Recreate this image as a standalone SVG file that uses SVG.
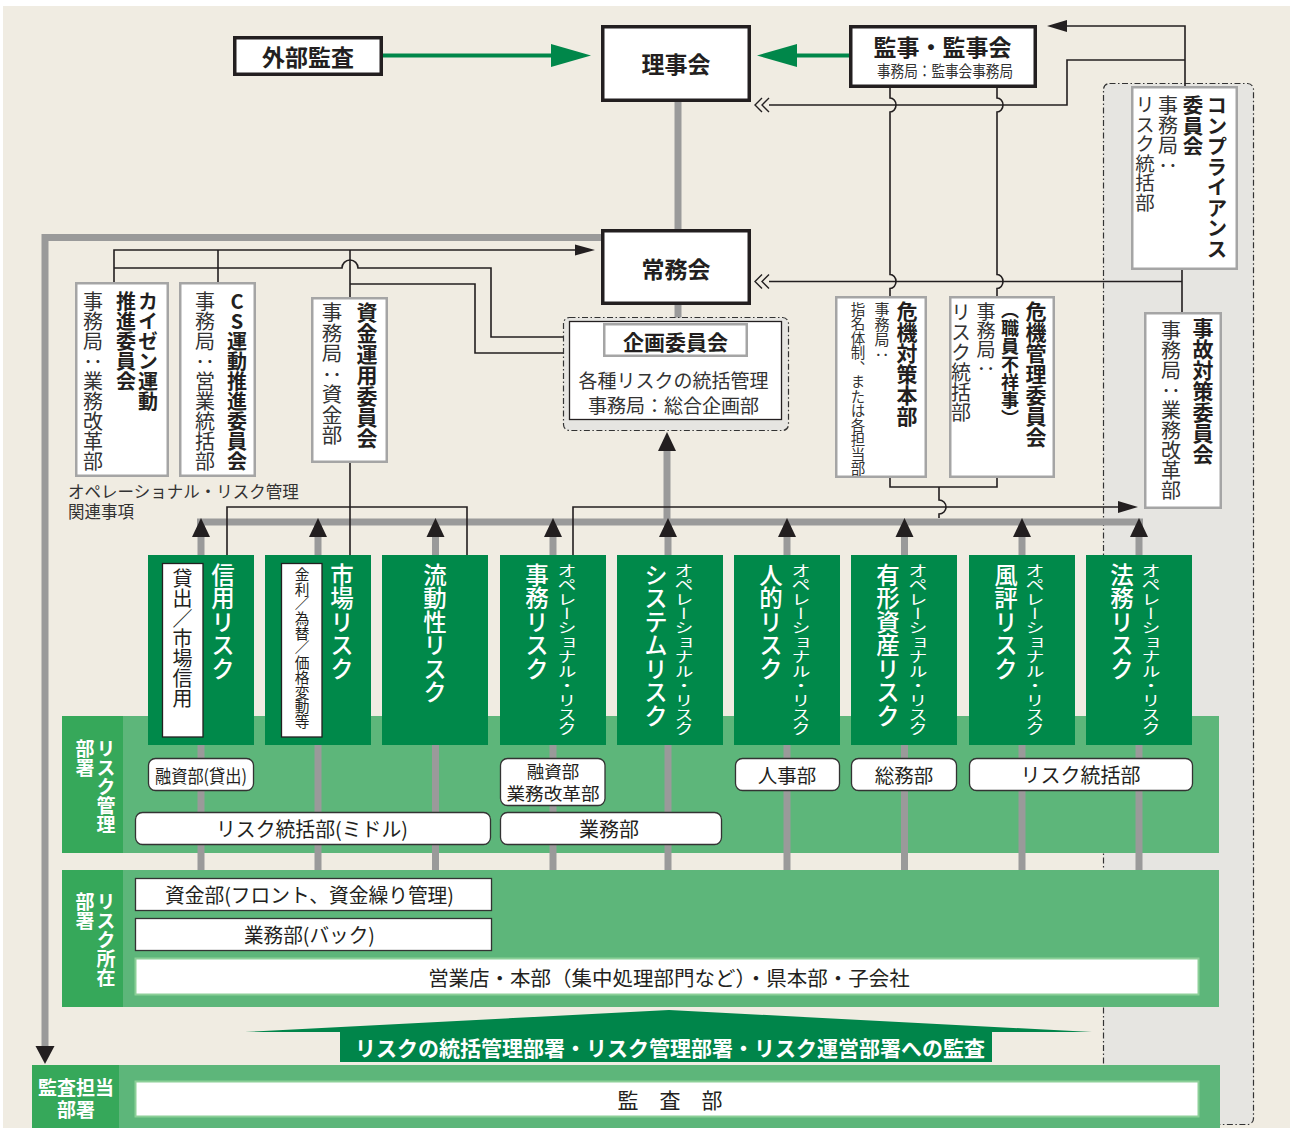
<svg xmlns="http://www.w3.org/2000/svg" width="1290" height="1128" viewBox="0 0 1290 1128">
<defs>
<style>
text { font-family: 'Noto Sans CJK JP', 'Noto Sans', sans-serif; fill: #231f20; }
.v { writing-mode: vertical-rl; }
.c { text-anchor: middle; dominant-baseline: central; }
.b { font-weight: bold; }
.m { font-weight: 500; }
.w { fill: #fff; }
.sub { fill: #333; }
.thick { fill: #fff; stroke: #231f20; stroke-width: 3.5; }
.gbox { fill: #fff; stroke: #a5a5a5; stroke-width: 2.5; }
.dept { fill: #fff; stroke: #333; stroke-width: 1.3; }
.gline { fill: none; stroke: #9a9a9a; stroke-width: 7; }
.line { fill: none; stroke: #231f20; stroke-width: 1.6; }
.col { fill: #00894a; }
.band { fill: #5db67a; }
.lab { fill: #36a85a; }
.lgb { fill: #fff; stroke: #8ccf98; stroke-width: 2; }
.dd { stroke: #333; stroke-width: 1.2; stroke-dasharray: 6 2.5 1.5 2.5; }
.inner { fill: #fff; stroke: #231f20; stroke-width: 1.3; }
</style>
<polygon id="upTri" points="0,0 9,19 -9,19" fill="#231f20"/>
<path id="chev" d="M7,-7 L0,0 L7,7 M14,-7 L7,0 L14,7" fill="none" stroke="#231f20" stroke-width="1.4"/>
</defs>

<rect x="3" y="6" width="1287" height="1122" fill="#f0ece2"/>

<!-- compliance area -->
<rect id="compliance-area" class="dd" x="1103.5" y="83.5" width="150" height="1041" rx="6" fill="#e6e5e1"/>

<!-- bands -->
<g id="band-risk-mgmt">
<rect class="band" x="62" y="716" width="1157" height="137"/>
<rect class="lab" x="62" y="716" width="61" height="137"/>
<text class="v b w" x="106" y="739" font-size="19">リスク管理</text>
<text class="v b w" x="85" y="739" font-size="19">部署</text>
</g>
<g id="band-risk-loc">
<rect class="band" x="62" y="870" width="1157" height="137"/>
<rect class="lab" x="62" y="870" width="61" height="137"/>
<text class="v b w" x="106" y="892" font-size="19">リスク所在</text>
<text class="v b w" x="85" y="892" font-size="19">部署</text>
</g>
<g id="band-audit">
<rect class="band" x="32" y="1065" width="1188" height="63"/>
<rect class="lab" x="32" y="1065" width="87" height="63"/>
<text class="c b w" x="76" y="1086" font-size="19">監査担当</text>
<text class="c b w" x="76" y="1108" font-size="19">部署</text>
</g>

<!-- gray connectors -->
<g id="gray-connectors">
<path class="gline" d="M678,102 V229 M678,305 V318"/>
<path class="gline" d="M601,237.5 H45 V1047"/>
<polygon points="45,1064 35.5,1046 54.5,1046" fill="#231f20"/>
<path class="gline" d="M197,522 H1143"/>
<path class="gline" d="M667,450 V522"/>
<path class="gline" d="M201,522 V870 M318,522 V870 M435.5,522 V870 M553,522 V870 M668,522 V870 M787,522 V870 M904.5,522 V870 M1022,522 V870 M1139,522 V870"/>
<use href="#upTri" x="667" y="432"/>
</g>

<!-- risk columns -->
<g id="risk-credit">
<rect class="col" x="148" y="555" width="106" height="190"/>
<rect class="inner" x="162.5" y="563.5" width="40.5" height="173.5"/>
<text class="v w m" x="223" y="563" font-size="23.5">信用リスク</text>
<text class="v" x="182.5" y="568" font-size="20">貸出／市場信用</text>
</g>
<g id="risk-market">
<rect class="col" x="265" y="555" width="106" height="190"/>
<rect class="inner" x="281.5" y="563.5" width="40.5" height="173.5"/>
<text class="v w m" x="342" y="563" font-size="23.5">市場リスク</text>
<text class="v" x="302" y="567" font-size="14.7">金利／為替／価格変動等</text>
</g>
<g id="risk-liquidity">
<rect class="col" x="382" y="555" width="106" height="190"/>
<text class="v w m" x="435" y="563" font-size="23.5">流動性リスク</text>
</g>
<g id="risk-admin">
<rect class="col" x="500" y="555" width="106" height="190"/>
<text class="v w m" x="537" y="563" font-size="23.5">事務リスク</text>
<text class="v w" transform="translate(567,563) scale(1,0.76)" x="0" y="0" font-size="19">オペレーショナル・リスク</text>
</g>
<g id="risk-system">
<rect class="col" x="617" y="555" width="106" height="190"/>
<text class="v w m" x="656" y="563" font-size="23.5">システムリスク</text>
<text class="v w" transform="translate(684,563) scale(1,0.76)" x="0" y="0" font-size="19">オペレーショナル・リスク</text>
</g>
<g id="risk-human">
<rect class="col" x="734" y="555" width="106" height="190"/>
<text class="v w m" x="771" y="563" font-size="23.5">人的リスク</text>
<text class="v w" transform="translate(801,563) scale(1,0.76)" x="0" y="0" font-size="19">オペレーショナル・リスク</text>
</g>
<g id="risk-tangible">
<rect class="col" x="851" y="555" width="106" height="190"/>
<text class="v w m" x="888" y="563" font-size="23.5">有形資産リスク</text>
<text class="v w" transform="translate(918,563) scale(1,0.76)" x="0" y="0" font-size="19">オペレーショナル・リスク</text>
</g>
<g id="risk-reputation">
<rect class="col" x="969" y="555" width="106" height="190"/>
<text class="v w m" x="1006" y="563" font-size="23.5">風評リスク</text>
<text class="v w" transform="translate(1035,563) scale(1,0.76)" x="0" y="0" font-size="19">オペレーショナル・リスク</text>
</g>
<g id="risk-legal">
<rect class="col" x="1086" y="555" width="106" height="190"/>
<text class="v w m" x="1122" y="563" font-size="23.5">法務リスク</text>
<text class="v w" transform="translate(1151,563) scale(1,0.76)" x="0" y="0" font-size="19">オペレーショナル・リスク</text>
</g>

<!-- risk management departments -->
<g id="dept-yushi-kashidashi">
<rect class="dept" x="148.5" y="758.5" width="105" height="32" rx="7"/>
<text class="c" x="201" y="774.5" font-size="18" textLength="92" lengthAdjust="spacingAndGlyphs">融資部(貸出)</text>
</g>
<g id="dept-yushi-gyomukaikaku">
<rect class="dept" x="500.5" y="758.5" width="104.5" height="47" rx="7"/>
<text class="c" x="553" y="770.5" font-size="17.5">融資部</text>
<text class="c" x="553" y="792" font-size="17.5" textLength="93" lengthAdjust="spacingAndGlyphs">業務改革部</text>
</g>
<g id="dept-risk-middle">
<rect class="dept" x="135.5" y="812.5" width="355" height="32" rx="7"/>
<text class="c" x="312" y="828.5" font-size="20" textLength="192" lengthAdjust="spacingAndGlyphs">リスク統括部(ミドル)</text>
</g>
<g id="dept-gyomu">
<rect class="dept" x="500.5" y="812.5" width="221" height="32" rx="7"/>
<text class="c" x="609" y="828.5" font-size="20">業務部</text>
</g>
<g id="dept-jinji">
<rect class="dept" x="735.5" y="758.5" width="104" height="32" rx="7"/>
<text class="c" x="787" y="774.5" font-size="19.5">人事部</text>
</g>
<g id="dept-somu">
<rect class="dept" x="851.5" y="758.5" width="105" height="32" rx="7"/>
<text class="c" x="904" y="774.5" font-size="19.5">総務部</text>
</g>
<g id="dept-risk">
<rect class="dept" x="969.5" y="758.5" width="223" height="32" rx="7"/>
<text class="c" x="1080.5" y="774.5" font-size="20">リスク統括部</text>
</g>

<!-- risk location departments -->
<g id="loc-shikin">
<rect class="dept" x="135.5" y="878.5" width="356" height="32"/>
<text class="c" x="309.5" y="894.5" font-size="20" textLength="289" lengthAdjust="spacingAndGlyphs">資金部(フロント、資金繰り管理)</text>
</g>
<g id="loc-gyomu-back">
<rect class="dept" x="135.5" y="918.5" width="356" height="32"/>
<text class="c" x="309.5" y="934.5" font-size="20" textLength="131" lengthAdjust="spacingAndGlyphs">業務部(バック)</text>
</g>
<g id="loc-branches">
<rect class="lgb" x="135.5" y="958.5" width="1063" height="36"/>
<text class="c" x="669" y="976.5" font-size="20.5">営業店・本部（集中処理部門など）・県本部・子会社</text>
</g>

<!-- audit banner -->
<g id="audit-banner">
<polygon points="245,1032 669,1010 1092,1032 992,1032 992,1062 340,1062 340,1032" fill="#00854a"/>
<text class="c b w" x="670" y="1047" font-size="21">リスクの統括管理部署・リスク管理部署・リスク運営部署への監査</text>
</g>
<g id="audit-dept">
<rect class="lgb" x="135.5" y="1081.5" width="1063" height="35"/>
<text class="c" x="670" y="1099" font-size="21">監　査　部</text>
</g>

<!-- top nodes -->
<g id="external-audit">
<rect class="thick" x="234.75" y="37.75" width="146.5" height="36.5"/>
<text class="c b" x="308" y="56" font-size="23">外部監査</text>
</g>
<g id="board">
<rect class="thick" x="602.75" y="26.75" width="146.5" height="73.5"/>
<text class="c b" x="676" y="63" font-size="23">理事会</text>
</g>
<g id="auditors">
<rect class="thick" x="850.75" y="26.75" width="184.5" height="59.5"/>
<text class="c b" x="942.5" y="46" font-size="23">監事・監事会</text>
<text class="c sub" x="945" y="70" font-size="16" textLength="136" lengthAdjust="spacingAndGlyphs">事務局：監事会事務局</text>
</g>
<g id="executive">
<rect class="thick" x="602.75" y="230.75" width="146.5" height="72.5"/>
<text class="c b" x="676" y="267.5" font-size="23">常務会</text>
</g>
<g id="planning">
<rect class="dd" x="563.5" y="317.5" width="225" height="113" rx="6" fill="#e6e5e1"/>
<rect class="inner" x="569.5" y="321.5" width="212" height="98"/>
<rect class="gbox" x="604.25" y="324.25" width="142.5" height="31.5"/>
<text class="c b" x="675.5" y="341" font-size="21">企画委員会</text>
<text class="c sub" x="673.5" y="379" font-size="19">各種リスクの統括管理</text>
<text class="c sub" x="673.5" y="404" font-size="19">事務局：総合企画部</text>
</g>

<!-- committees -->
<g id="kaizen">
<rect class="gbox" x="76.25" y="283.25" width="91.5" height="192.5"/>
<text class="v b" x="148" y="291" font-size="20">カイゼン運動</text>
<text class="v b" x="126" y="291" font-size="20">推進委員会</text>
<text class="v sub" x="93" y="291" font-size="20">事務局：業務改革部</text>
</g>
<g id="cs">
<rect class="gbox" x="180.25" y="283.25" width="74.5" height="192.5"/>
<text class="v b" x="237" y="291" font-size="20"><tspan style="text-orientation:upright">CS</tspan>運動推進委員会</text>
<text class="v sub" x="205" y="291" font-size="20">事務局：営業統括部</text>
</g>
<g id="fund">
<rect class="gbox" x="312.25" y="298.25" width="74.5" height="163.5"/>
<text class="v b" x="367" y="302" font-size="21">資金運用委員会</text>
<text class="v sub" x="332" y="302" font-size="20.5">事務局：資金部</text>
</g>
<g id="crisis-hq">
<rect class="gbox" x="836.25" y="297.25" width="89.5" height="179.5"/>
<text class="v b" x="907" y="301" font-size="21">危機対策本部</text>
<text class="v sub" x="882" y="302" font-size="15">事務局：</text>
<text class="v sub" x="858" y="302" font-size="14.5">指名体制、または各担当部</text>
</g>
<g id="crisis-committee">
<rect class="gbox" x="950.25" y="297.25" width="103.5" height="179.5"/>
<text class="v b" x="1036" y="301" font-size="21">危機管理委員会</text>
<text class="v b" x="1010" y="301" font-size="18">（職員不祥事）</text>
<text class="v sub" x="986" y="302" font-size="19">事務局：</text>
<text class="v sub" x="961" y="302" font-size="20">リスク統括部</text>
</g>
<g id="accident">
<rect class="gbox" x="1145.25" y="313.25" width="75.5" height="194.5"/>
<text class="v b" x="1203" y="318" font-size="21">事故対策委員会</text>
<text class="v sub" x="1171" y="320" font-size="20">事務局：業務改革部</text>
</g>
<g id="compliance">
<rect class="gbox" x="1132.25" y="87.25" width="104.5" height="181.5"/>
<text class="v b" x="1217" y="95" font-size="20.5">コンプライアンス</text>
<text class="v b" x="1193" y="95" font-size="20.5">委員会</text>
<text class="v sub" x="1168" y="95" font-size="20">事務局：</text>
<text class="v sub" x="1145" y="95" font-size="19.5">リスク統括部</text>
</g>

<text class="sub" x="68" y="491" font-size="16.5" dominant-baseline="central">オペレーショナル・リスク管理</text>
<text class="sub" x="68" y="511" font-size="16.5" dominant-baseline="central">関連事項</text>

<!-- black connectors -->
<g id="connectors">
<path class="line" d="M1185,86 V26 H1066"/>
<polygon points="1047,26 1067,20 1067,32" fill="#231f20"/>
<path class="line" d="M1185,60 H1067 V105 H769"/>
<use href="#chev" x="755" y="105"/>
<path class="line" d="M1182,270 V312 M1182,281.5 H769"/>
<use href="#chev" x="755" y="281.5"/>
<path class="line" d="M890,88 V98 a6,7 0 0 1 0,14 V274.5 a6,7 0 0 1 0,14 V296"/>
<path class="line" d="M997,88 V98 a6,7 0 0 1 0,14 V274.5 a6,7 0 0 1 0,14 V296"/>
<path class="line" d="M890,478 V487 H997 V478 M939,487 V500 a7,7 0 0 1 0,14 V518"/>
<path class="line" d="M114,282 V250 H576 M218,250 V282 M350,250 V297"/>
<polygon points="595,250 575,244.5 575,255.5" fill="#231f20"/>
<path class="line" d="M114,268 H342 a8,8 0 0 1 16,0 H491 V337 H563"/>
<path class="line" d="M350,284 H475 V353 H563"/>
<path class="line" d="M350,463 V555"/>
<path class="line" d="M227,555 V507 H467 V555"/>
<path class="line" d="M573,555 V507 H1119"/>
<polygon points="1138,507 1118,501 1118,513" fill="#231f20"/>
<use href="#upTri" x="201" y="518"/>
<use href="#upTri" x="318" y="518"/>
<use href="#upTri" x="435.5" y="518"/>
<use href="#upTri" x="553" y="518"/>
<use href="#upTri" x="668" y="518"/>
<use href="#upTri" x="787" y="518"/>
<use href="#upTri" x="904.5" y="518"/>
<use href="#upTri" x="1022" y="518"/>
<use href="#upTri" x="1139" y="518"/>
<path d="M383,55.5 H553" fill="none" stroke="#00874a" stroke-width="4"/>
<polygon points="591,55.5 551,44 551,67" fill="#00874a"/>
<path d="M849,55.5 H795" fill="none" stroke="#00874a" stroke-width="4"/>
<polygon points="757,55.5 797,44 797,67" fill="#00874a"/>
</g>
</svg>
